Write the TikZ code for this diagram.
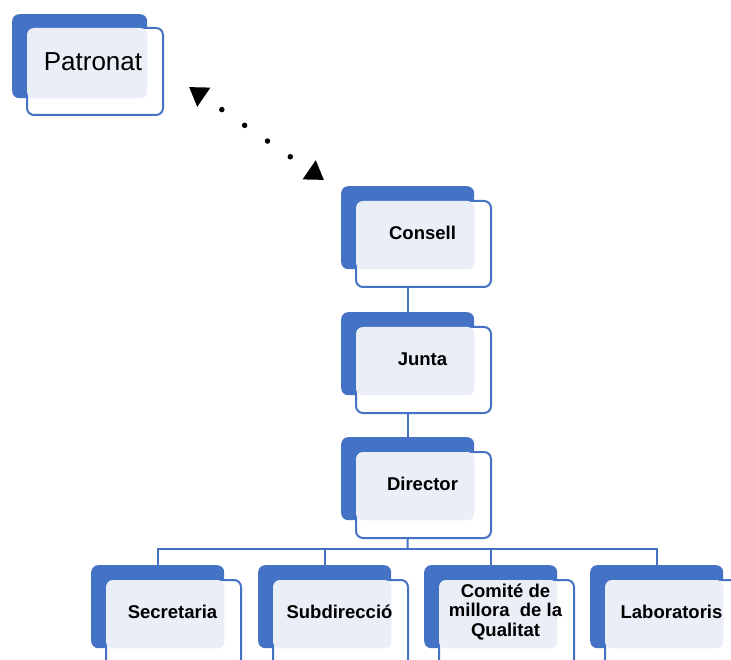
\documentclass[tikz,border=0pt]{standalone}
\usepackage{fontspec}
\setmainfont{Liberation Sans}
\usetikzlibrary{arrows.meta,backgrounds}

\definecolor{boxblue}{HTML}{4472C4}
\definecolor{boxlight}{HTML}{E9EEF7}

\tikzset{
	backbox/.style={fill=boxblue, rounded corners=7pt, minimum width=133pt, minimum height=83pt, inner sep=0pt},
	frontbox/.style={draw=boxblue, line width=2pt, fill=white, rounded corners=7pt, minimum width=135pt, minimum height=86pt, inner sep=0pt},
	boxtext/.style={font=\fontsize{18.5}{19.5}\selectfont\bfseries, align=center, inner sep=0pt},
	link/.style={draw=boxblue, line width=2pt}
}

% back box at (x,y) of its top left corner, front box shifted by 14
\newcommand{\orgbox}[4]{%
	\node[backbox, anchor=north west] (#1) at (#2,#3) {};
	\node[frontbox, anchor=north west] (#1-f) at (#2+14,#3+14) {};
	\fill[boxlight, rounded corners=7pt] ([shift={(1pt,-1pt)}]#1-f.north west) rectangle (#1.south east);
	\node[boxtext] (#1-t) at (#2+81.5,#3+47) {#4};
}

\begin{document}
\begin{tikzpicture}[x=1pt, y=-1pt]
	\useasboundingbox (0,0) rectangle (731,660);
	\clip (0,0) rectangle (731,660);

	% Patronat
	\node[backbox, anchor=north west, minimum width=135pt, minimum height=84pt] (patronat) at (12,14) {};
	\node[frontbox, anchor=north west, minimum width=136pt, minimum height=87pt] (patronat-f) at (26,27) {};
	\fill[boxlight, rounded corners=7pt] ([shift={(1pt,-1pt)}]patronat-f.north west) rectangle (patronat.south east);
	\node[font=\fontsize{26}{30}\selectfont, inner sep=0pt] (patronat-t) at (93,62) {Patronat};

	% organigram
	\orgbox{consell}{341}{186}{Consell}
	\orgbox{junta}{341}{312}{Junta}
	\orgbox{director}{341}{437}{Director}
	\orgbox{secretaria}{91}{565}{Secretaria}
	\orgbox{subdireccio}{258}{565}{Subdirecció}
	\orgbox{comite}{424}{565}{Comité de\\millora \ de la\\Qualitat}
	\orgbox{laboratoris}{590}{565}{Laboratoris}

	\begin{pgfonlayer}{background}
		\coordinate (bus) at (407.5,549);
		\draw[link] (consell) -- (junta);
		\draw[link] (junta) -- (director);
		\draw[link] (director) -- (bus);
		\foreach \c in {secretaria,subdireccio,comite,laboratoris}
			\draw[link] (bus) -| (\c);
	\end{pgfonlayer}

	% dotted link
	\coordinate (patronat-a) at (189,87);
	\coordinate (consell-a) at (324,180);
	\draw[line width=5.5pt, line cap=round, dash pattern=on 0pt off 27.7pt, dash phase=4.7pt,
		{Triangle[length=18pt,width=22pt]}-{Triangle[length=18pt,width=22pt]}] (patronat-a) -- (consell-a);
\end{tikzpicture}
\end{document}
